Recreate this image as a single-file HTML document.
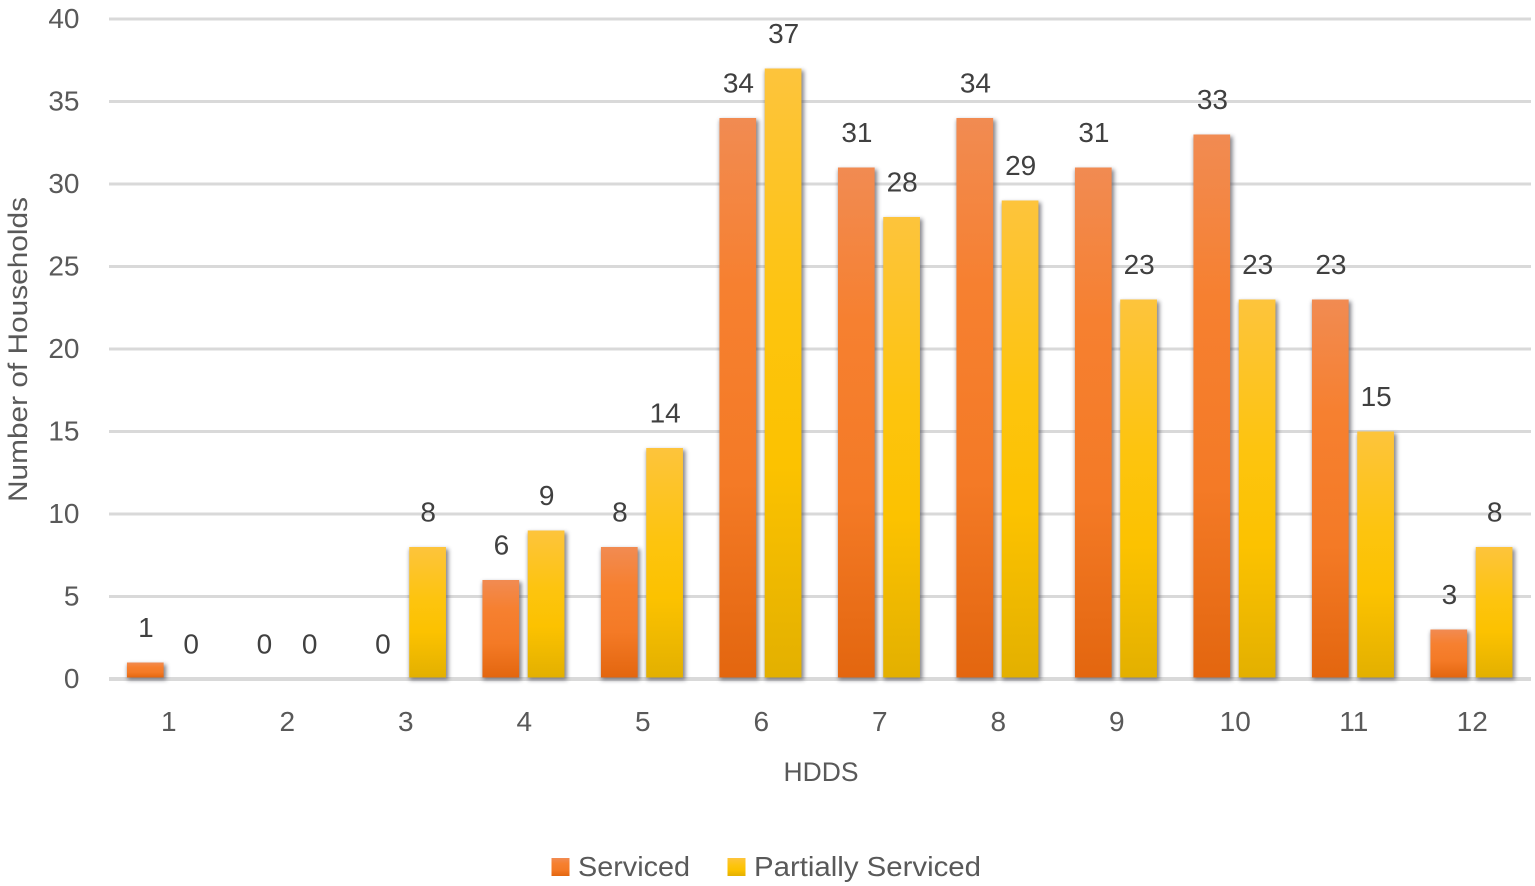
<!DOCTYPE html>
<html>
<head>
<meta charset="utf-8">
<style>
html,body{margin:0;padding:0;background:#fff;}
svg{display:block;font-family:"Liberation Sans",sans-serif;}
</style>
</head>
<body>
<svg id="chart" width="1535" height="886" viewBox="0 0 1535 886" xmlns="http://www.w3.org/2000/svg">
<defs>
<linearGradient id="gradO" x1="0" y1="0" x2="0" y2="1">
<stop offset="0" stop-color="#f18b52"/><stop offset="0.3" stop-color="#f68030"/><stop offset="0.65" stop-color="#f47a26"/><stop offset="1" stop-color="#e3660f"/>
</linearGradient>
<linearGradient id="gradY" x1="0" y1="0" x2="0" y2="1">
<stop offset="0" stop-color="#fdc43c"/><stop offset="0.4" stop-color="#fdc40f"/><stop offset="0.65" stop-color="#fcc200"/><stop offset="1" stop-color="#e3b000"/>
</linearGradient>
<filter id="barShadow" filterUnits="userSpaceOnUse" x="0" y="0" width="1535" height="886">
<feGaussianBlur stdDeviation="2"/>
</filter>
</defs>
<g id="grid"></g>
<g id="shadows"></g>
<g id="bars"></g>
<g id="labels"></g>
<g id="axes"></g>
<text transform="translate(27,349.5) rotate(-90)" text-anchor="middle" font-size="27" fill="#595959" textLength="305" lengthAdjust="spacingAndGlyphs">Number of Households</text>
<text x="821" y="781" text-anchor="middle" font-size="27" fill="#595959" textLength="75" lengthAdjust="spacingAndGlyphs">HDDS</text>
<g>
<rect x="551.5" y="858" width="18" height="18" fill="url(#gradO)"/>
<text x="578" y="876" font-size="28" fill="#595959" textLength="112" lengthAdjust="spacingAndGlyphs">Serviced</text>
<rect x="727.5" y="858" width="18" height="18" fill="url(#gradY)"/>
<text x="754" y="876" font-size="28" fill="#595959" textLength="227" lengthAdjust="spacingAndGlyphs">Partially Serviced</text>
</g>
</svg>
<script>
var categories = ['1','2','3','4','5','6','7','8','9','10','11','12'];
var serviced = [1,0,0,6,8,34,31,34,31,33,23,3];
var partiallyServiced = [0,0,8,9,14,37,28,29,23,23,15,8];
var yTicks = [0,5,10,15,20,25,30,35,40];

var NS = 'http://www.w3.org/2000/svg';
var plotLeft = 109, plotRight = 1531, y0 = 679, y40 = 19;
var barW = 36.7, barBottom = 677.5;

function yScale(v){ return y0 - (v / 40) * (y0 - y40); }
function xCenter(i){ return plotLeft + (plotRight - plotLeft) * (i + 0.5) / categories.length - 0.3; }
function make(parent, tag, attrs, txt){
  var el = document.createElementNS(NS, tag);
  for (var k in attrs) el.setAttribute(k, attrs[k]);
  if (txt !== undefined) el.textContent = txt;
  parent.appendChild(el);
  return el;
}
var gGrid = document.getElementById('grid');
var gShadows = document.getElementById('shadows');
var gBars = document.getElementById('bars');
var gLabels = document.getElementById('labels');
var gAxes = document.getElementById('axes');

yTicks.forEach(function(t){
  var y = yScale(t);
  var line = make(gGrid, 'line', {x1:plotLeft, x2:plotRight, y1:y, y2:y, stroke:'#d9d9d9', 'stroke-width': t === 0 ? 4 : 3});
  
  
  var lab = make(gAxes, 'text', {x:79.5, y:y + 9, 'text-anchor':'end', 'font-size':28, fill:'#595959'}, String(t));
  
  
});

function drawBar(v, x, fill, series, cat){
  var top = yScale(v);
  if (v > 0) {
    var shadow = make(gShadows, 'rect', {x:x + 0.5, y:top + 2, width:barW + 2, height:barBottom + 2.5 - top - 2, fill:'#50505a', opacity:0.7, filter:'url(#barShadow)'});
    
    
    var r = make(gBars, 'rect', {x:x, y:top, width:barW, height:barBottom - top, fill:fill});
    
    
  }
  var t = make(gLabels, 'text', {x:x + barW / 2 + 0.6, y:top - 25.5, 'text-anchor':'middle', 'font-size':28, fill:'#404040'}, String(v));
  
  
}

categories.forEach(function(c, i){
  var cx = xCenter(i);
  drawBar(serviced[i], cx - 41, 'url(#gradO)', 'serviced', c);
  drawBar(partiallyServiced[i], cx + 4.3, 'url(#gradY)', 'partially-serviced', c);
  var t = make(gAxes, 'text', {x:cx + 0.8, y:731, 'text-anchor':'middle', 'font-size':28, fill:'#595959'}, c);
  
  
});
</script>
</body>
</html>
